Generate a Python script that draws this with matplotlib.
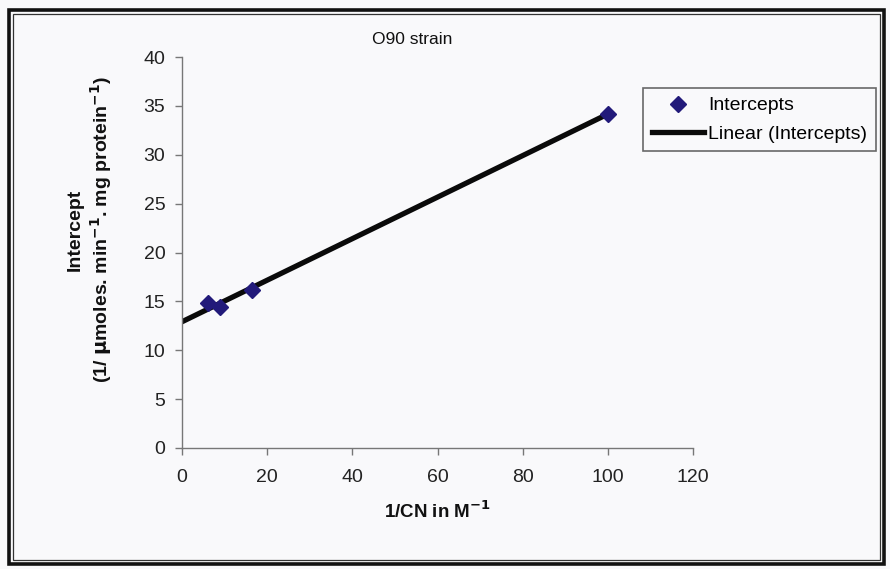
import numpy as np
import matplotlib.pyplot as plt
from matplotlib.patches import Rectangle
from matplotlib.lines import Line2D

plt.rcParams['font.family'] = ['Liberation Sans', 'DejaVu Sans']

# Reciprocal cyanide concentration (1/CN, M^-1) and intercepts
inv_cn = [6.0, 9.0, 16.5, 100.0]
intercepts = [14.8, 14.4, 16.2, 34.2]

x_ticks = [0, 20, 40, 60, 80, 100, 120]
y_ticks = [0, 5, 10, 15, 20, 25, 30, 35, 40]

W, H = 890, 569
fig = plt.figure(figsize=(W / 100, H / 100), dpi=100)
bg = '#f9f9fb'
fig.patch.set_facecolor(bg)

# double frame around the chart
fig.add_artist(Rectangle((9 / W, 1 - 564 / H), (884 - 9) / W, (564 - 10) / H,
                         transform=fig.transFigure, fill=False, lw=2.6,
                         edgecolor='#111111'))
fig.add_artist(Rectangle((13 / W, 1 - 560 / H), (880 - 13) / W, (560 - 14) / H,
                         transform=fig.transFigure, fill=False, lw=0.9,
                         edgecolor='#333333'))

ax = fig.add_axes([182 / W, 1 - 448 / H, (693 - 182) / W, (448 - 57) / H])
ax.set_facecolor(bg)

# linear least-squares trendline extended back to x = 0
slope, icpt = np.polyfit(inv_cn, intercepts, 1)
xl = np.array([0, max(inv_cn)])
ax.plot(xl, slope * xl + icpt, color='#0a0a0a', lw=3.8, solid_capstyle='round',
        zorder=2)
ax.plot(inv_cn, intercepts, linestyle='none', marker='D', ms=8,
        color='#221a7a', markeredgecolor='#221a7a', zorder=3)

ax.set_xlim(0, 120)
ax.set_ylim(0, 40)
ax.set_xticks(x_ticks)
ax.set_yticks(y_ticks)
for s in ['top', 'right']:
    ax.spines[s].set_visible(False)
for s in ['left', 'bottom']:
    ax.spines[s].set_color('#777777')
    ax.spines[s].set_linewidth(1.0)
ax.tick_params(axis='both', colors='#777777', length=5, width=1.0,
               labelcolor='#222222', labelsize=14)
ax.tick_params(axis='x', pad=10)
ax.tick_params(axis='y', pad=7)

ax.set_xlabel('1/CN in M$^{\\mathbf{-1}}$', fontsize=13.5, fontweight='bold',
              color='#111111')
ax.xaxis.set_label_coords(0.5, -0.135)

fig.text(75 / W, 1 - 230 / H, 'Intercept', rotation=90, ha='center',
         va='center', fontsize=14, fontweight='bold', color='#111111')
fig.text(101 / W, 1 - 230 / H,
         '(1/ $\\mathbf{\\mu}$moles. min$^{\\mathbf{-1}}$. mg protein$^{\\mathbf{-1}}$)',
         rotation=90, ha='center', va='center', fontsize=14,
         fontweight='bold', color='#111111')

fig.text(412 / W, 1 - 40 / H, 'O90 strain', ha='center', va='center',
         fontsize=12.5, color='#111111')

handles = [Line2D([], [], linestyle='none', marker='D', ms=8, color='#221a7a'),
           Line2D([], [], color='#0a0a0a', lw=3.8)]
leg = fig.legend(handles, ['Intercepts', 'Linear (Intercepts)'],
                 loc='upper left', bbox_to_anchor=(643 / W, 1 - 88 / H),
                 bbox_transform=fig.transFigure, frameon=True, fancybox=False,
                 fontsize=14, handlelength=2.7, handletextpad=0.2,
                 borderpad=0.45, labelspacing=0.55, borderaxespad=0)
leg.get_frame().set_edgecolor('#444444')
leg.get_frame().set_linewidth(1.2)
leg.get_frame().set_facecolor(bg)

fig.savefig('out.png', dpi=100, facecolor=bg)
